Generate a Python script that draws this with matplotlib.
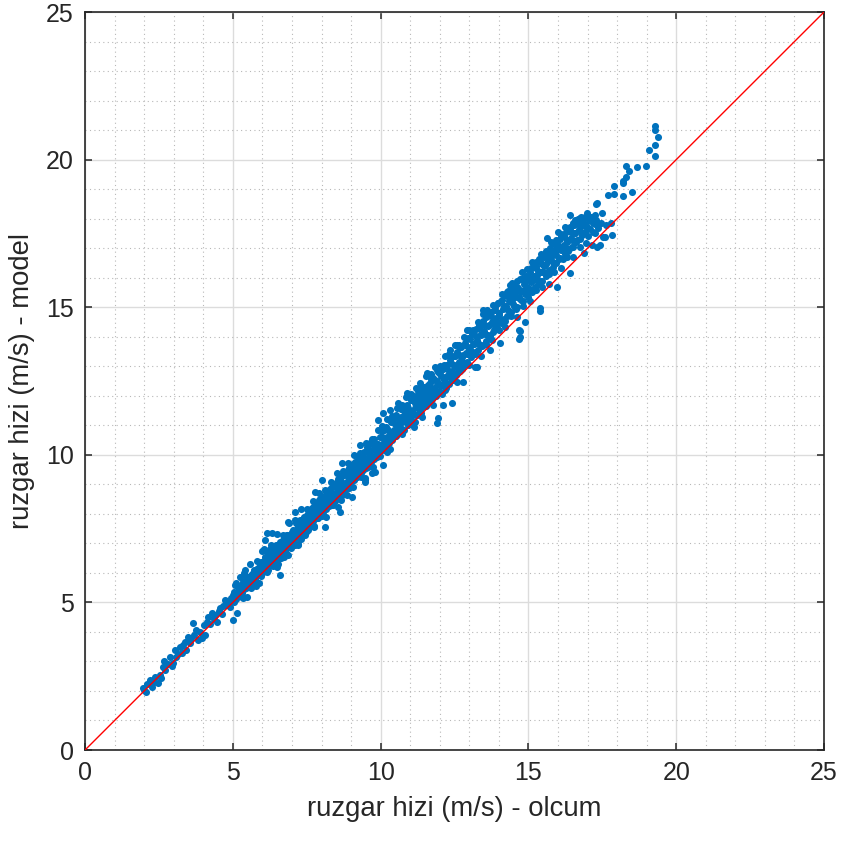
import numpy as np
import matplotlib
matplotlib.use('Agg')
import matplotlib.pyplot as plt

# (olcum, model) pairs, split along the band
pts_low = [(1.96, 2.10), (1.98, 2.02), (2.05, 1.97), (2.10, 2.22), (2.20, 2.37), (2.25, 2.15),
           (2.33, 2.30), (2.37, 2.47), (2.47, 2.27), (2.52, 2.55), (2.58, 2.45), (2.64, 2.81),
           (2.68, 3.00), (2.72, 2.70), (2.80, 2.92), (2.88, 3.15), (2.93, 2.85), (2.98, 2.95),
           (3.04, 3.39), (3.08, 3.15), (3.15, 3.25), (3.21, 3.49), (3.27, 3.30), (3.33, 3.55),
           (3.38, 3.66), (3.42, 3.40), (3.48, 3.83), (3.55, 3.62), (3.60, 3.78), (3.65, 4.30),
           (3.70, 3.90), (3.76, 4.05), (3.82, 3.72), (3.89, 4.00), (3.96, 3.79), (4.02, 4.25),
           (4.06, 3.90), (4.12, 4.33), (4.16, 4.50), (4.22, 4.28), (4.30, 4.64), (4.35, 4.45),
           (4.40, 4.58), (4.47, 4.34), (4.52, 4.72), (4.57, 4.81), (4.63, 4.60), (4.68, 4.88),
           (4.74, 5.08), (4.80, 4.92), (4.86, 5.00), (4.90, 4.85), (4.95, 5.15), (5.00, 4.40),
           (5.02, 5.25), (5.07, 5.59), (5.10, 5.10), (5.13, 4.64), (5.16, 5.40), (5.20, 5.30),
           (5.24, 5.86), (5.27, 5.50), (5.30, 5.20), (5.35, 5.65), (5.38, 5.45), (5.41, 6.10),
           (5.45, 5.75), (5.48, 5.18), (5.52, 5.60), (5.56, 5.85), (5.60, 5.50), (5.64, 5.95),
           (5.68, 5.66), (5.72, 6.05), (5.76, 5.80), (5.80, 5.55), (5.84, 6.15), (5.88, 5.95),
           (5.92, 6.25), (5.96, 5.90), (5.99, 6.74), (6.02, 6.33)]

pts_mid = [(6.05, 6.20), (6.08, 6.55), (6.09, 7.11), (6.12, 6.40), (6.16, 7.35), (6.18, 6.10),
           (6.20, 6.62), (6.24, 6.35), (6.27, 6.80), (6.30, 6.50), (6.33, 7.35), (6.35, 6.25),
           (6.38, 6.70), (6.42, 6.55), (6.45, 6.95), (6.48, 6.40), (6.50, 6.20), (6.52, 6.78),
           (6.56, 6.60), (6.60, 5.93), (6.60, 6.90), (6.63, 6.50), (6.66, 7.05), (6.70, 6.75),
           (6.73, 6.55), (6.76, 7.10), (6.80, 6.85), (6.83, 7.30), (6.87, 6.60), (6.87, 7.72),
           (6.90, 7.00), (6.93, 7.20), (6.96, 6.85), (7.00, 7.40), (7.03, 7.10), (7.06, 7.25),
           (7.10, 8.06), (7.12, 6.95), (7.15, 7.45), (7.18, 7.20), (7.20, 6.94), (7.23, 7.60),
           (7.26, 7.35), (7.30, 7.15), (7.33, 7.70), (7.36, 7.50), (7.40, 7.85), (7.43, 7.30),
           (7.46, 7.65), (7.50, 7.95), (7.53, 7.45), (7.56, 7.80), (7.60, 8.10), (7.63, 7.60),
           (7.66, 7.95), (7.70, 7.75), (7.73, 8.25), (7.76, 7.55), (7.78, 8.74), (7.80, 8.05),
           (7.84, 8.35), (7.87, 7.85), (7.90, 8.15), (7.94, 8.50), (7.97, 7.95), (8.00, 8.30),
           (8.02, 9.15), (8.05, 8.05), (8.08, 8.60), (8.12, 7.55), (8.12, 8.35), (8.16, 8.15),
           (8.20, 8.70), (8.23, 8.45), (8.26, 8.25), (8.30, 8.85), (8.33, 8.55), (8.36, 8.30),
           (8.40, 8.95), (8.43, 8.65), (8.46, 8.45), (8.50, 9.05), (8.53, 8.75), (8.56, 8.23),
           (8.58, 8.55), (8.62, 9.20), (8.63, 8.06), (8.65, 8.85), (8.69, 9.72), (8.70, 8.65),
           (8.73, 9.30), (8.76, 9.00), (8.80, 8.80), (8.83, 9.40), (8.86, 8.64), (8.88, 9.10),
           (8.92, 9.55), (8.95, 9.25), (8.98, 9.00), (9.03, 8.57), (9.03, 9.60), (9.06, 9.30),
           (9.10, 9.15), (9.13, 9.75), (9.16, 9.45), (9.20, 9.25), (9.23, 9.85), (9.26, 9.55),
           (9.30, 10.33), (9.32, 9.40), (9.35, 9.95), (9.38, 9.65), (9.42, 9.50), (9.45, 10.10),
           (9.47, 9.08), (9.47, 9.15), (9.50, 9.80), (9.53, 10.25), (9.56, 9.60), (9.60, 9.95),
           (9.63, 10.40), (9.66, 9.75), (9.70, 10.15), (9.71, 9.38), (9.74, 9.90), (9.78, 10.55),
           (9.81, 9.42), (9.82, 10.20), (9.86, 9.95), (9.90, 10.35), (9.91, 11.18), (9.94, 10.05),
           (9.98, 10.60)]

pts_high = [(10.02, 10.25), (10.05, 10.80), (10.08, 9.65), (10.08, 11.42), (10.10, 10.45),
            (10.14, 10.20), (10.17, 10.95), (10.20, 10.60), (10.22, 10.09), (10.25, 10.85),
            (10.28, 10.40), (10.32, 11.52), (10.34, 11.10), (10.37, 10.70), (10.40, 10.50),
            (10.43, 11.20), (10.46, 10.85), (10.50, 10.65), (10.53, 11.35), (10.56, 11.00),
            (10.59, 11.75), (10.60, 10.75), (10.64, 11.25), (10.67, 10.90), (10.70, 11.55),
            (10.74, 11.10), (10.78, 10.85), (10.81, 11.40), (10.85, 11.15), (10.89, 12.09),
            (10.90, 11.70), (10.93, 11.00), (10.97, 11.50), (11.00, 11.25), (11.04, 11.85),
            (11.08, 11.40), (11.11, 11.15), (11.14, 12.00), (11.16, 11.11), (11.18, 11.60),
            (11.22, 11.35), (11.26, 12.15), (11.30, 11.80), (11.33, 12.43), (11.34, 11.50),
            (11.38, 12.05), (11.40, 11.28), (11.43, 11.75), (11.47, 12.30), (11.50, 11.95),
            (11.54, 11.65), (11.57, 12.77), (11.58, 12.20), (11.62, 11.85), (11.66, 12.45),
            (11.70, 12.05), (11.74, 11.90), (11.78, 12.60), (11.82, 12.25), (11.86, 12.00),
            (11.91, 11.08), (11.91, 12.87), (11.92, 12.50), (11.94, 11.25), (11.96, 12.15),
            (12.00, 12.75), (12.04, 12.35), (12.08, 12.05), (12.11, 11.69), (12.12, 12.90),
            (12.16, 12.55), (12.20, 12.25), (12.24, 13.05), (12.28, 12.70), (12.32, 12.40),
            (12.35, 13.55), (12.36, 13.20), (12.40, 12.85), (12.42, 11.75), (12.44, 12.55),
            (12.48, 13.35), (12.52, 13.00), (12.56, 12.70), (12.58, 13.72), (12.60, 13.50),
            (12.64, 13.15), (12.68, 12.85), (12.72, 13.65), (12.76, 13.30), (12.79, 12.47),
            (12.80, 13.00), (12.84, 13.80), (12.88, 13.45), (12.92, 14.23), (12.93, 13.15),
            (12.97, 13.95), (13.01, 13.60), (13.05, 13.30), (13.09, 14.10), (13.13, 13.75),
            (13.17, 13.40), (13.19, 12.97), (13.21, 14.25), (13.26, 12.97), (13.26, 13.90),
            (13.30, 13.55), (13.34, 14.40), (13.38, 14.05), (13.42, 13.70), (13.46, 14.90),
            (13.47, 14.55), (13.51, 14.20), (13.55, 13.85), (13.60, 14.90), (13.60, 14.70),
            (13.64, 14.35), (13.68, 14.00), (13.70, 13.55), (13.73, 14.85), (13.77, 14.50),
            (13.81, 14.15), (13.86, 15.00), (13.90, 14.65), (13.94, 14.30), (13.98, 15.15),
            (14.02, 14.80), (14.04, 13.79)]

pts_top = [(14.06, 14.45), (14.10, 15.25), (14.13, 14.95), (14.17, 14.60), (14.20, 15.40),
           (14.24, 15.05), (14.28, 14.70), (14.32, 15.55), (14.36, 15.20), (14.38, 15.75),
           (14.40, 14.85), (14.44, 15.45), (14.48, 15.10), (14.52, 15.80), (14.56, 15.35),
           (14.60, 15.00), (14.64, 15.65), (14.68, 14.23), (14.68, 13.92), (14.68, 15.30),
           (14.72, 13.99), (14.72, 14.20), (14.73, 15.95), (14.76, 15.55), (14.78, 16.19),
           (14.80, 15.20), (14.84, 15.80), (14.88, 14.50), (14.88, 15.45), (14.92, 16.05),
           (14.96, 15.70), (15.00, 15.35), (15.04, 16.20), (15.08, 15.85), (15.12, 15.50),
           (15.16, 16.36), (15.18, 16.05), (15.22, 15.70), (15.26, 16.40), (15.30, 16.10),
           (15.34, 15.80), (15.39, 14.97), (15.39, 14.87), (15.38, 16.55), (15.42, 16.20),
           (15.46, 15.90), (15.50, 16.75), (15.54, 16.40), (15.58, 16.05), (15.62, 16.85),
           (15.63, 17.34), (15.66, 16.55), (15.70, 16.25), (15.74, 17.00), (15.78, 16.70),
           (15.82, 16.35), (15.86, 17.15), (15.90, 16.85), (15.94, 16.50), (15.97, 15.68),
           (15.97, 17.21), (15.98, 17.00), (16.00, 17.55), (16.03, 16.65), (16.07, 17.30),
           (16.11, 16.95), (16.15, 17.45), (16.19, 17.10), (16.23, 16.80), (16.27, 17.55),
           (16.31, 17.20), (16.35, 16.90), (16.41, 16.16), (16.41, 18.12), (16.40, 17.70),
           (16.44, 17.35), (16.48, 17.05), (16.52, 17.85), (16.56, 17.50), (16.60, 17.20),
           (16.64, 17.95), (16.68, 18.00), (16.70, 17.60), (16.75, 17.95), (16.74, 17.30),
           (16.78, 17.75), (16.82, 17.45), (16.86, 17.90), (16.88, 16.84), (16.90, 17.55),
           (16.95, 17.80), (17.00, 17.40), (17.05, 17.95), (17.08, 18.06), (17.10, 17.65),
           (17.15, 17.10), (17.15, 18.06), (17.20, 17.85), (17.25, 17.50), (17.29, 17.95),
           (17.32, 17.04), (17.32, 18.53), (17.36, 17.70), (17.42, 17.10), (17.45, 17.85),
           (17.49, 18.19), (17.52, 17.38), (17.59, 17.38), (17.62, 17.80), (17.83, 17.45)]

# extra points read inside the solid part of the band
pts_core_a = [(5.03, 5.34), (5.08, 5.15), (5.11, 5.33), (5.17, 5.57), (5.22, 5.35), (5.26, 5.53),
              (5.31, 5.33), (5.34, 5.70), (5.40, 5.58), (5.43, 5.87), (5.49, 5.58), (5.53, 5.78),
              (5.58, 5.91), (5.62, 5.77), (5.67, 5.72), (5.71, 6.09), (5.77, 5.98), (5.83, 6.12),
              (5.89, 6.00), (5.94, 6.36),
              (6.01, 6.13), (6.04, 6.42), (6.10, 6.36), (6.14, 6.18), (6.19, 6.66), (6.22, 6.41),
              (6.26, 6.59), (6.31, 6.39), (6.34, 6.75), (6.39, 6.62), (6.44, 6.59), (6.47, 6.83),
              (6.51, 6.53), (6.55, 6.84), (6.59, 7.04), (6.62, 6.79), (6.67, 6.77), (6.71, 7.10),
              (6.75, 6.99), (6.79, 6.85), (6.84, 7.27), (6.88, 7.19), (6.92, 7.06), (6.97, 7.24),
              (7.02, 7.46), (7.05, 7.22), (7.09, 7.40), (7.13, 7.69), (7.17, 7.26), (7.21, 7.59),
              (7.24, 7.48), (7.28, 7.78), (7.32, 7.45), (7.35, 7.69), (7.39, 7.45), (7.42, 7.89),
              (7.47, 7.74), (7.51, 7.71), (7.55, 8.13), (7.58, 7.69), (7.62, 8.03), (7.65, 7.94),
              (7.69, 8.21), (7.72, 7.88), (7.77, 8.13), (7.81, 7.88), (7.85, 8.30), (7.89, 8.14),
              (7.93, 8.48), (7.98, 8.31),
              (8.01, 8.22), (8.04, 8.56), (8.09, 8.18), (8.13, 8.50), (8.17, 8.78), (8.21, 8.36),
              (8.24, 8.67), (8.28, 8.56), (8.31, 8.37), (8.35, 8.90), (8.38, 8.71), (8.42, 8.60),
              (8.47, 8.94), (8.51, 8.62), (8.55, 9.18), (8.59, 8.84), (8.62, 9.02), (8.66, 8.74),
              (8.71, 9.29), (8.74, 9.04), (8.78, 8.92), (8.82, 9.31), (8.85, 9.07), (8.89, 9.49),
              (8.93, 9.28), (8.97, 9.09),
              (9.01, 9.46), (9.05, 9.18), (9.08, 9.70), (9.12, 9.40), (9.15, 9.22), (9.19, 9.70),
              (9.22, 9.58), (9.27, 9.46), (9.31, 9.98), (9.34, 9.44), (9.37, 9.78), (9.41, 9.97),
              (9.44, 9.68), (9.49, 9.82), (9.52, 9.57), (9.55, 10.15), (9.59, 9.76), (9.62, 10.10),
              (9.67, 9.96), (9.72, 10.38), (9.76, 9.85), (9.79, 10.18), (9.84, 10.37), (9.88, 10.09),
              (9.92, 10.36), (9.96, 10.27)]

pts_core_b = [(10.03, 10.60), (10.07, 10.29), (10.11, 10.85), (10.15, 10.54), (10.19, 10.32),
              (10.23, 10.86), (10.27, 10.57), (10.31, 10.79), (10.36, 10.54), (10.39, 11.17),
              (10.44, 10.79), (10.48, 11.03), (10.52, 10.63), (10.55, 11.24), (10.61, 10.87),
              (10.65, 11.09), (10.69, 11.29), (10.72, 10.88), (10.76, 11.52), (10.80, 11.13),
              (10.84, 11.35), (10.88, 11.09), (10.92, 11.58), (10.96, 11.36),
              (11.02, 11.46), (11.06, 11.87), (11.10, 11.37), (11.15, 11.77), (11.19, 11.36),
              (11.24, 11.97), (11.28, 11.64), (11.32, 11.85), (11.37, 12.25), (11.41, 11.62),
              (11.45, 12.11), (11.49, 11.80), (11.53, 12.02), (11.59, 12.37), (11.63, 11.78),
              (11.68, 12.26), (11.72, 12.56), (11.76, 12.15), (11.81, 12.05), (11.85, 12.55),
              (11.90, 12.37), (11.95, 12.81),
              (12.03, 12.66), (12.07, 12.35), (12.13, 13.05), (12.17, 12.62), (12.22, 12.43),
              (12.26, 13.03), (12.30, 12.84), (12.34, 12.69), (12.39, 13.36), (12.43, 13.09),
              (12.47, 12.72), (12.51, 13.34), (12.55, 13.04), (12.61, 12.92), (12.65, 13.37),
              (12.70, 13.65), (12.74, 13.14), (12.78, 13.37), (12.83, 13.06), (12.87, 13.73),
              (12.91, 13.42), (12.96, 13.66),
              (13.03, 13.91), (13.07, 13.49), (13.11, 14.16), (13.15, 13.76), (13.20, 13.50),
              (13.24, 14.03), (13.28, 13.79), (13.32, 14.30), (13.36, 13.72), (13.40, 14.09),
              (13.45, 13.72), (13.49, 14.41), (13.53, 14.10), (13.58, 14.66), (13.62, 14.07),
              (13.66, 14.40), (13.71, 14.04), (13.75, 14.70), (13.79, 14.42), (13.84, 14.23),
              (13.88, 14.90), (13.93, 14.48),
              (14.02, 14.74), (14.08, 15.20), (14.12, 14.58), (14.16, 15.05), (14.21, 14.54),
              (14.26, 15.47), (14.30, 14.91), (14.34, 15.31), (14.39, 14.79), (14.43, 15.23),
              (14.47, 15.65), (14.51, 15.04), (14.55, 15.47), (14.59, 14.95), (14.63, 15.69),
              (14.67, 15.35), (14.71, 15.56), (14.75, 15.24), (14.80, 15.95), (14.85, 15.59),
              (14.90, 15.85), (14.95, 15.53),
              (15.02, 15.99), (15.06, 15.61), (15.10, 16.32), (15.14, 15.92), (15.19, 15.60),
              (15.24, 16.32), (15.28, 15.94), (15.32, 16.22), (15.36, 16.63), (15.41, 15.89),
              (15.45, 16.46), (15.49, 16.20), (15.53, 16.70), (15.57, 16.16), (15.61, 16.47),
              (15.65, 16.90), (15.70, 16.14), (15.74, 16.69), (15.79, 16.91), (15.84, 16.52),
              (15.89, 16.92), (15.94, 16.76),
              (16.02, 17.07), (16.06, 16.68), (16.10, 17.42), (16.14, 16.99), (16.18, 16.65),
              (16.22, 17.40), (16.26, 17.00), (16.30, 17.28), (16.34, 17.70), (16.38, 16.96),
              (16.43, 17.55), (16.47, 17.27), (16.51, 17.03), (16.55, 17.80), (16.59, 17.52),
              (16.63, 17.29), (16.67, 17.82), (16.72, 17.60), (16.77, 18.07), (16.81, 17.51),
              (16.85, 17.87), (16.92, 17.75), (16.98, 18.18), (17.03, 17.67), (17.11, 18.07),
              (17.18, 17.90), (17.26, 17.81), (17.38, 17.83)]

# points along the lower and upper edges of the band
pts_edge = [(5.05, 5.00), (5.19, 5.27), (5.33, 5.15), (5.46, 5.48), (5.61, 5.51), (5.74, 5.80),
            (5.87, 5.65), (6.03, 6.03), (6.16, 6.02), (6.29, 6.38), (6.41, 6.34), (6.54, 6.30),
            (6.68, 6.72), (6.81, 6.69), (6.95, 7.02), (7.07, 7.04), (7.19, 6.99), (7.34, 7.39),
            (7.48, 7.39), (7.61, 7.71), (7.74, 7.58), (7.86, 7.87), (8.00, 7.94), (8.14, 7.89),
            (8.27, 8.35), (8.40, 8.29), (8.53, 8.56), (8.67, 8.48), (8.80, 8.86), (8.93, 8.89),
            (9.07, 8.92), (9.21, 9.30), (9.33, 9.25), (9.46, 9.23), (9.60, 9.62), (9.73, 9.60),
            (9.87, 9.94), (9.99, 9.97),
            (5.12, 5.67), (5.38, 6.00), (5.59, 6.29), (5.81, 6.39), (6.06, 6.81), (6.28, 6.94),
            (6.49, 7.31), (6.69, 7.29), (6.91, 7.69), (7.11, 7.79), (7.31, 8.16), (7.52, 8.15),
            (7.71, 8.45), (7.92, 8.72), (8.11, 8.80), (8.32, 9.09), (8.52, 9.38), (8.72, 9.44),
            (8.91, 9.72), (9.11, 10.01), (9.30, 10.06), (9.51, 10.39), (9.70, 10.53), (9.90, 10.85),
            (10.06, 10.98), (10.21, 11.21), (10.38, 11.33), (10.55, 11.60), (10.71, 11.69),
            (10.87, 11.97), (11.03, 12.05), (11.20, 12.28), (11.36, 12.32), (11.52, 12.67),
            (11.69, 12.73), (11.84, 12.96), (12.01, 13.01), (12.18, 13.36), (12.33, 13.41),
            (12.50, 13.72), (12.66, 13.71), (12.82, 13.98), (12.99, 14.24), (13.14, 14.24),
            (13.31, 14.51), (13.48, 14.78), (13.63, 14.77), (13.80, 15.06), (13.96, 15.14),
            (14.12, 15.44), (14.29, 15.51), (14.45, 15.83), (14.62, 15.90), (14.77, 15.97),
            (14.94, 16.29), (15.11, 16.53), (15.27, 16.52), (15.43, 16.81), (15.60, 16.90),
            (15.76, 17.21), (15.92, 17.27), (16.09, 17.49), (16.25, 17.73), (16.42, 17.72),
            (16.58, 17.95), (16.75, 18.02), (16.91, 18.05), (17.07, 17.98), (17.24, 18.12),
            (10.12, 10.17), (10.33, 10.21), (10.51, 10.66), (10.74, 10.69), (10.95, 11.05),
            (11.13, 10.93), (11.35, 11.43), (11.55, 11.73), (11.77, 11.69), (11.98, 12.10),
            (12.19, 12.21), (12.38, 12.58), (12.57, 12.47), (12.77, 12.92), (12.98, 13.04),
            (13.18, 13.40), (13.39, 13.34), (13.57, 13.75), (13.78, 13.88), (13.99, 14.24),
            (14.21, 14.33), (14.42, 14.72), (14.61, 14.66), (14.83, 15.05), (15.05, 15.20),
            (15.25, 15.60), (15.47, 15.67), (15.68, 15.78), (15.88, 16.18), (16.09, 16.34),
            (16.31, 16.71), (16.52, 16.70), (16.73, 17.05), (16.96, 17.16), (17.17, 17.55)]

pts_tail = [(17.80, 17.85), (17.29, 18.50), (17.69, 18.80), (17.90, 18.83), (17.90, 19.11),
            (18.20, 18.77), (18.20, 19.22), (18.20, 19.27), (18.30, 19.41), (18.40, 19.61),
            (18.30, 19.78), (18.50, 18.90), (18.67, 19.75), (18.98, 19.78), (19.28, 20.12),
            (19.08, 20.33), (19.28, 20.49), (19.38, 20.77), (19.28, 21.00), (19.28, 21.14)]

ticks = [0, 5, 10, 15, 20, 25]

plt.rcParams['font.family'] = ['Liberation Sans', 'DejaVu Sans']

fig = plt.figure(figsize=(8.41, 8.43), dpi=100)
ax = fig.add_axes([0.1011, 0.1103, 0.8787, 0.8754])

for pts in [pts_low, pts_mid, pts_high, pts_top, pts_core_a, pts_core_b, pts_edge, pts_tail]:
    xy = np.array(pts)
    ax.scatter(xy[:, 0], xy[:, 1], s=26, color='#0072BD', linewidths=0, zorder=3)

ax.plot([0, 25], [0, 25], color='red', lw=1.0, zorder=4)

ax.set_xlim(0, 25)
ax.set_ylim(0, 25)
ax.set_xticks(ticks)
ax.set_yticks(ticks)
ax.set_xticks(range(26), minor=True)
ax.set_yticks(range(26), minor=True)
ax.grid(which='major', color='#dcdcdc', lw=1.0)
ax.grid(which='minor', color='#b8b8b8', ls=(0, (1, 3)), lw=0.8)
ax.set_axisbelow(True)

ax.tick_params(which='major', direction='in', length=5, width=1.1, top=True, right=True,
               labelsize=18, pad=8, colors='#262626')
ax.tick_params(which='minor', length=0)
for sp in ax.spines.values():
    sp.set_color('#262626')
    sp.set_linewidth(1.2)

ax.set_xlabel('ruzgar hizi (m/s) - olcum', fontsize=19.8, color='#262626', labelpad=8)
ax.set_ylabel('ruzgar hizi (m/s) - model', fontsize=19.8, color='#262626', labelpad=8)

fig.savefig('out.png', dpi=100)
